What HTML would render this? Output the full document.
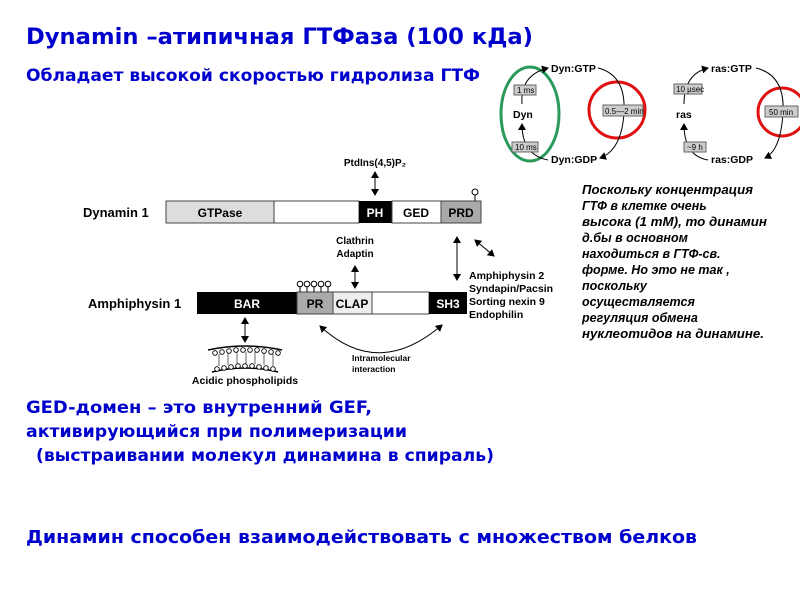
<!DOCTYPE html>
<html><head><meta charset="utf-8"><style>
html,body{margin:0;padding:0;background:#fff;}
svg{display:block;}
.b{font-family:"Liberation Sans",sans-serif;font-weight:bold;fill:#000;}
.t{font-family:"DejaVu Sans","Liberation Sans",sans-serif;font-weight:bold;fill:#0000cc;}
.i{font-family:"Liberation Sans",sans-serif;font-style:italic;font-weight:bold;font-size:12.5px;fill:#000;}
</style></head><body>
<svg width="800" height="600" viewBox="0 0 800 600" xmlns="http://www.w3.org/2000/svg">
<defs>
<marker id="a" markerWidth="8" markerHeight="8" refX="6" refY="4" orient="auto-start-reverse" markerUnits="userSpaceOnUse"><path d="M0,0 L7,4 L0,8 Z" fill="#000"/></marker>
</defs>
<text class="t" x="26" y="44" font-size="22" textLength="507" lengthAdjust="spacingAndGlyphs">Dynamin –атипичная ГТФаза (100 кДа)</text>
<text class="t" x="26" y="81" font-size="17" textLength="454" lengthAdjust="spacingAndGlyphs">Обладает высокой скоростью гидролиза ГТФ</text>
<text class="t" x="26" y="413" font-size="17" textLength="346" lengthAdjust="spacingAndGlyphs">GED-домен – это внутренний GEF,</text>
<text class="t" x="26" y="437" font-size="17" textLength="381" lengthAdjust="spacingAndGlyphs">активирующийся при полимеризации</text>
<text class="t" x="36" y="461" font-size="17" textLength="458" lengthAdjust="spacingAndGlyphs">(выстраивании молекул динамина в спираль)</text>
<text class="t" x="26" y="543" font-size="18" textLength="671" lengthAdjust="spacingAndGlyphs">Динамин способен взаимодействовать с множеством белков</text>

<text class="b" x="83" y="217" font-size="13">Dynamin 1</text>
<rect x="166" y="201" width="108" height="22" fill="#ddd" stroke="#444"/>
<rect x="274" y="201" width="85" height="22" fill="#fff" stroke="#444"/>
<rect x="359" y="201" width="33" height="22" fill="#000"/>
<rect x="392" y="201" width="49" height="22" fill="#fff" stroke="#444"/>
<rect x="441" y="201" width="40" height="22" fill="#aaa" stroke="#444"/>
<text class="b" x="220" y="217" font-size="12" text-anchor="middle">GTPase</text>
<text class="b" x="375" y="217" font-size="12" text-anchor="middle" style="fill:#fff">PH</text>
<text class="b" x="416" y="217" font-size="12" text-anchor="middle">GED</text>
<text class="b" x="461" y="217" font-size="12" text-anchor="middle">PRD</text>
<line x1="475" y1="201" x2="475" y2="194" stroke="#000"/><circle cx="475" cy="192" r="3" fill="#fff" stroke="#000"/>
<text class="b" x="375" y="166" font-size="10" text-anchor="middle">PtdIns(4,5)P₂</text>
<line x1="375" y1="172" x2="375" y2="195" stroke="#000" marker-start="url(#a)" marker-end="url(#a)"/>

<text class="b" x="88" y="308" font-size="13">Amphiphysin 1</text>
<rect x="197" y="292" width="100" height="22" fill="#000"/>
<rect x="297" y="292" width="36" height="22" fill="#aaa" stroke="#444"/>
<rect x="333" y="292" width="39" height="22" fill="#eee" stroke="#444"/>
<rect x="372" y="292" width="57" height="22" fill="#fff" stroke="#444"/>
<rect x="429" y="292" width="38" height="22" fill="#000"/>
<text class="b" x="247" y="308" font-size="12" text-anchor="middle" style="fill:#fff">BAR</text>
<text class="b" x="315" y="308" font-size="12" text-anchor="middle">PR</text>
<text class="b" x="352" y="308" font-size="12" text-anchor="middle">CLAP</text>
<text class="b" x="448" y="308" font-size="12" text-anchor="middle" style="fill:#fff">SH3</text>
<g stroke="#000" fill="#fff">
<line x1="300" y1="292" x2="300" y2="286"/><circle cx="300" cy="284" r="2.8"/>
<line x1="307" y1="292" x2="307" y2="286"/><circle cx="307" cy="284" r="2.8"/>
<line x1="314" y1="292" x2="314" y2="286"/><circle cx="314" cy="284" r="2.8"/>
<line x1="321" y1="292" x2="321" y2="286"/><circle cx="321" cy="284" r="2.8"/>
<line x1="328" y1="292" x2="328" y2="286"/><circle cx="328" cy="284" r="2.8"/>
</g>
<text class="b" x="355" y="244" font-size="10" text-anchor="middle">Clathrin</text>
<text class="b" x="355" y="257" font-size="10" text-anchor="middle">Adaptin</text>
<line x1="355" y1="266" x2="355" y2="288" stroke="#000" marker-start="url(#a)" marker-end="url(#a)"/>
<line x1="457" y1="237" x2="457" y2="280" stroke="#000" marker-start="url(#a)" marker-end="url(#a)"/>
<line x1="475" y1="240" x2="494" y2="256" stroke="#000" marker-start="url(#a)" marker-end="url(#a)"/>
<g class="b" font-size="10.5">
<text x="469" y="279">Amphiphysin 2</text>
<text x="469" y="292">Syndapin/Pacsin</text>
<text x="469" y="305">Sorting nexin 9</text>
<text x="469" y="318">Endophilin</text>
</g>
<path d="M320,326 Q378,380 442,325" fill="none" stroke="#000" marker-start="url(#a)" marker-end="url(#a)"/>
<text class="b" x="352" y="361" font-size="8.5">Intramolecular</text>
<text class="b" x="352" y="372" font-size="8.5">interaction</text>
<line x1="245" y1="318" x2="245" y2="342" stroke="#000" marker-start="url(#a)" marker-end="url(#a)"/>
<g stroke="#000" fill="#fff" stroke-width="0.9">
<path d="M208,350 Q245,342 282,350" fill="none" stroke-width="1.5"/>
<path d="M212,372 Q245,364 278,372" fill="none" stroke-width="1.5"/>
<g stroke-width="0.6"><line x1="219" y1="354" x2="219" y2="366"/><line x1="228" y1="353" x2="228" y2="365"/><line x1="237" y1="352" x2="237" y2="364"/><line x1="246" y1="352" x2="246" y2="364"/><line x1="255" y1="352" x2="255" y2="364"/><line x1="264" y1="353" x2="264" y2="365"/><line x1="273" y1="354" x2="273" y2="366"/></g>
<circle cx="215" cy="353" r="2.3"/><circle cx="222" cy="352" r="2.3"/><circle cx="229" cy="351" r="2.3"/><circle cx="236" cy="350" r="2.3"/><circle cx="243" cy="350" r="2.3"/><circle cx="250" cy="350" r="2.3"/><circle cx="257" cy="350" r="2.3"/><circle cx="264" cy="351" r="2.3"/><circle cx="271" cy="352" r="2.3"/><circle cx="278" cy="353" r="2.3"/>
<circle cx="217" cy="369" r="2.3"/><circle cx="224" cy="368" r="2.3"/><circle cx="231" cy="367" r="2.3"/><circle cx="238" cy="366" r="2.3"/><circle cx="245" cy="366" r="2.3"/><circle cx="252" cy="366" r="2.3"/><circle cx="259" cy="367" r="2.3"/><circle cx="266" cy="368" r="2.3"/><circle cx="273" cy="369" r="2.3"/>
</g>
<text class="b" x="245" y="384" font-size="10.5" text-anchor="middle">Acidic phospholipids</text>

<ellipse cx="530" cy="114" rx="29" ry="47" fill="none" stroke="#2a9a5a" stroke-width="3"/>
<circle cx="617" cy="110" r="28" fill="none" stroke="#e01010" stroke-width="3"/>
<circle cx="782" cy="112" r="24" fill="none" stroke="#e01010" stroke-width="3"/>
<g font-family="Liberation Sans,sans-serif" font-weight="bold" font-size="10.5" fill="#000">
<text x="551" y="72">Dyn:GTP</text>
<text x="513" y="118">Dyn</text>
<text x="551" y="163">Dyn:GDP</text>
<text x="711" y="72">ras:GTP</text>
<text x="676" y="118">ras</text>
<text x="711" y="163">ras:GDP</text>
</g>
<g fill="none" stroke="#000" stroke-width="1">
<path d="M522,104 Q520,75 548,68" marker-end="url(#a)"/>
<path d="M548,160 Q522,155 522,124" marker-end="url(#a)"/>
<path d="M598,68 Q626,75 624,112 Q622,150 600,158" marker-end="url(#a)"/>
<path d="M684,104 Q684,74 708,68" marker-end="url(#a)"/>
<path d="M708,160 Q684,156 684,124" marker-end="url(#a)"/>
<path d="M756,68 Q785,75 783,112 Q781,150 765,158" marker-end="url(#a)"/>
</g>
<g font-family="Liberation Sans,sans-serif" font-size="8" fill="#000">
<rect x="514" y="85" width="22" height="10" fill="#ccc" stroke="#666"/><text x="517" y="93">1 ms</text>
<rect x="512" y="142" width="26" height="10" fill="#ccc" stroke="#666"/><text x="515" y="150">10 ms</text>
<rect x="603" y="105" width="40" height="11" fill="#ccc" stroke="#666"/><text x="605" y="114">0.5—2 min</text>
<rect x="674" y="84" width="28" height="10" fill="#ccc" stroke="#666"/><text x="676" y="92">10 µsec</text>
<rect x="684" y="142" width="22" height="10" fill="#ccc" stroke="#666"/><text x="687" y="150">~9 h</text>
<rect x="765" y="106" width="33" height="11" fill="#ccc" stroke="#666"/><text x="769" y="115">50 min</text>
</g>

<g class="i">
<text x="582" y="194" textLength="171" lengthAdjust="spacingAndGlyphs">Поскольку концентрация</text>
<text x="582" y="210">ГТФ в клетке очень</text>
<text x="582" y="226" textLength="185" lengthAdjust="spacingAndGlyphs">высока (1 mM), то динамин</text>
<text x="582" y="242">д.бы в основном</text>
<text x="582" y="258">находиться  в ГТФ-св.</text>
<text x="582" y="274">форме. Но это не так ,</text>
<text x="582" y="290">поскольку</text>
<text x="582" y="306">осуществляется</text>
<text x="582" y="322">регуляция  обмена</text>
<text x="582" y="338" textLength="182" lengthAdjust="spacingAndGlyphs">нуклеотидов  на динамине.</text>
</g>
</svg>
</body></html>
